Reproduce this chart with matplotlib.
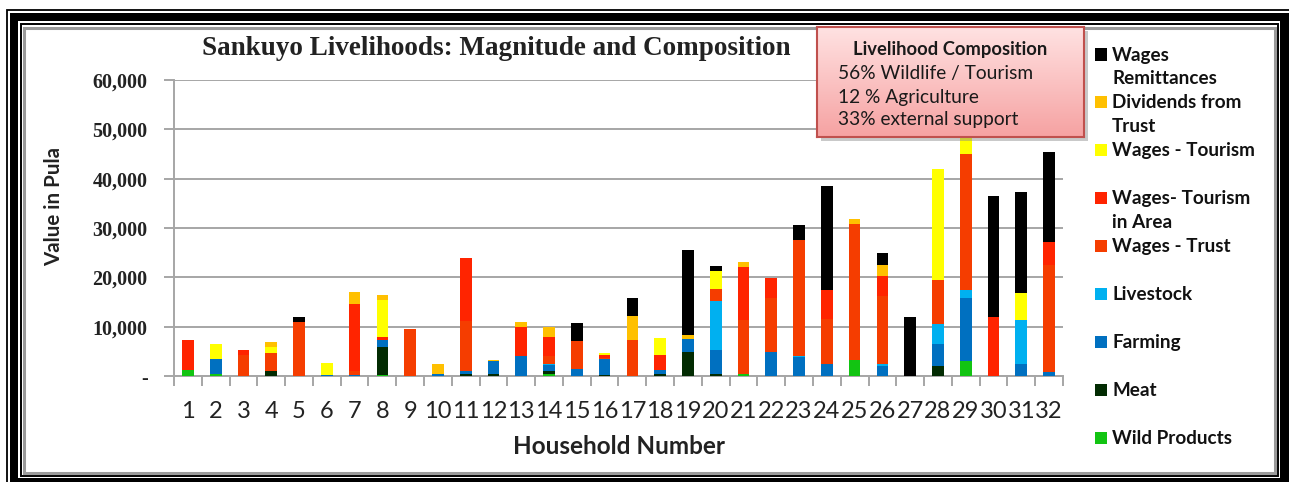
import matplotlib
matplotlib.use("Agg")
import matplotlib.pyplot as plt
import numpy as np
from matplotlib.patches import Rectangle
from matplotlib.ticker import FuncFormatter

W, H = 1289, 482

households = [str(i) for i in range(1, 33)]

# values in Pula (bottom of stack first)
wild = [1300, 470, 0, 0, 0, 0, 0, 300, 0, 0, 0, 0, 0, 470, 0, 0,
        0, 0, 0, 0, 470, 0, 0, 0, 3150, 0, 0, 0, 2950, 0, 0, 0]
meat = [0, 0, 0, 1000, 0, 0, 0, 5550, 0, 0, 470, 470, 0, 470, 0, 300,
        0, 470, 4850, 470, 0, 0, 0, 0, 0, 0, 0, 1950, 0, 0, 0, 0]
farming = [0, 2900, 0, 0, 0, 300, 300, 1500, 0, 470, 470, 2500, 4000, 1200, 1500, 3050,
           0, 680, 2550, 4900, 0, 4850, 3850, 2500, 0, 2000, 0, 4600, 12900, 0, 2500, 800]
livestock = [0, 0, 0, 0, 0, 0, 0, 0, 0, 0, 0, 0, 0, 270, 0, 0,
             0, 0, 0, 9900, 0, 0, 200, 0, 0, 400, 0, 4050, 1500, 0, 8800, 0]
wages_trust = [0, 0, 4200, 3650, 10950, 0, 800, 0, 9500, 0, 10300, 0, 0, 1550, 5550, 270,
               7350, 0, 0, 2350, 10800, 11000, 23600, 9050, 27700, 13900, 0, 8950, 27600, 0, 0, 21600]
tourism_area = [6050, 0, 1150, 0, 0, 0, 13500, 470, 0, 0, 12600, 0, 5950, 3850, 0, 540,
                0, 3050, 0, 0, 10800, 4050, 0, 5950, 0, 4050, 0, 0, 0, 11950, 0, 4850]
wages_tourism = [0, 3100, 0, 1200, 0, 2350, 0, 7500, 0, 0, 0, 0, 0, 0, 0, 600,
                 0, 3600, 0, 3700, 0, 0, 0, 0, 0, 0, 0, 22400, 5500, 0, 5600, 0]
dividends = [0, 0, 0, 950, 0, 0, 2400, 1200, 0, 1950, 0, 200, 1000, 2100, 0, 0,
             4800, 0, 1000, 0, 1000, 0, 0, 0, 1000, 2200, 0, 0, 0, 0, 0, 0]
remittances = [0, 0, 0, 0, 1000, 0, 0, 0, 0, 0, 0, 0, 0, 0, 3700, 0,
               3700, 0, 17150, 1000, 0, 0, 2950, 21100, 0, 2450, 11950, 0, 0, 24500, 20400, 18200]

series = [
    ("Wild Products", wild, "#12C412"),
    ("Meat", meat, "#022B02"),
    ("Farming", farming, "#0070C0"),
    ("Livestock", livestock, "#00B0F0"),
    ("Wages - Trust", wages_trust, "#F53D00"),
    ("Wages- Tourism\nin Area", tourism_area, "#FF2400"),
    ("Wages - Tourism", wages_tourism, "#FFFF00"),
    ("Dividends from\nTrust", dividends, "#FFC000"),
    ("Wages\nRemittances", remittances, "#000000"),
]

SANS = ["Lato", "DejaVu Sans"]
SERIF = ["Liberation Serif", "DejaVu Serif"]
GRID = "#A6A6A6"


def fx(px):
    return px / W


def fy(py):
    return 1 - py / H


fig = plt.figure(figsize=(W / 100, H / 100), dpi=100)
fig.patch.set_facecolor("white")

# double frame around the chart
def frame(x0, y0, x1, y1, **kw):
    fig.add_artist(Rectangle((fx(x0), fy(y1)), fx(x1) - fx(x0), fy(y0) - fy(y1),
                             transform=fig.transFigure, zorder=-10, **kw))

frame(6.5, 10, 1300, 495, fill=False, edgecolor="black", linewidth=1.3)
frame(10, 13, 1289, 482, facecolor="black", edgecolor="none")
frame(18.3, 21.5, 1280, 477.5, facecolor="white", edgecolor="none")
frame(20.5, 23.8, 1278, 476, fill=False, edgecolor="black", linewidth=1.4)
frame(23.5, 28, 1275, 473, fill=False, edgecolor="#9A9A9A", linewidth=2.2)

ax = fig.add_axes([fx(174), fy(376), fx(1063) - fx(174), fy(80) - fy(376)])
x = np.arange(1, len(households) + 1)
bottom = np.zeros(len(households))
for name, vals, col in series:
    ax.bar(x, vals, width=0.42, bottom=bottom, color=col, linewidth=0, zorder=3)
    bottom += np.array(vals)

ax.set_xlim(0.5, 32.5)
ax.set_ylim(0, 60000)
ax.yaxis.grid(True, color=GRID, linewidth=1.4)
ax.set_axisbelow(True)
for s in ("top", "right"):
    ax.spines[s].set_visible(False)
for s in ("left", "bottom"):
    ax.spines[s].set_color(GRID)
    ax.spines[s].set_linewidth(1.4)

ax.set_xticks(x, households, fontfamily=SANS, fontsize=17, color="#222222")
ax.set_xticks(np.arange(0.5, 33, 1), minor=True)
ax.tick_params(axis="x", which="major", length=0, pad=18)
ax.tick_params(axis="x", which="minor", length=7, color=GRID, width=1.4)

yt = np.arange(0, 60001, 10000)
ax.set_yticks(yt)
ax.yaxis.set_major_formatter(FuncFormatter(lambda v, _: "-" if v == 0 else f"{int(v):,}"))
ax.tick_params(axis="y", length=7, color=GRID, width=1.4, pad=12)
for lbl in ax.get_yticklabels():
    lbl.set_fontfamily(SERIF)
    lbl.set_fontweight("bold")
    lbl.set_fontsize(14.5)
    lbl.set_color("#222222")

fig.text(fx(496), fy(55), "Sankuyo Livelihoods: Magnitude and Composition",
         ha="center", va="baseline", fontfamily=SERIF, fontweight="bold",
         fontsize=19.5, color="#222222")
fig.text(fx(54), fy(207), "Value in Pula", rotation=90, ha="center", va="center",
         fontfamily=SANS, fontweight="bold", fontsize=14.8, color="#222222")
fig.text(fx(619), fy(446), "Household Number", ha="center", va="center",
         fontfamily=SANS, fontweight="bold", fontsize=17.5, color="#222222")

# legend, top entry = top of stack
for i, (name, vals, col) in enumerate(reversed(series)):
    top = 48.5 + 47.9 * i
    fig.add_artist(Rectangle((fx(1095), fy(top + 12)), fx(12), 12 / H,
                             transform=fig.transFigure, facecolor=col,
                             edgecolor="none", zorder=3))
    for j, line in enumerate(name.split("\n")):
        fig.text(fx(1112), fy(top + 12 + 24 * j), line, ha="left", va="baseline",
                 fontfamily=SANS, fontweight="bold", fontsize=13.6, color="#111111")

# livelihood composition box
bx0, by0, bx1, by1 = 817, 27, 1084, 137
fig.add_artist(Rectangle((fx(bx0 + 4), fy(by1 + 4)), fx(bx1 - bx0), (by1 - by0) / H,
                         transform=fig.transFigure, facecolor="#888888", alpha=0.45,
                         edgecolor="none", zorder=4))
box = fig.add_axes([fx(bx0), fy(by1), fx(bx1 - bx0), (by1 - by0) / H], zorder=5)
grad = np.linspace(0, 1, 100)[:, None]
top_c = np.array([255, 226, 226]) / 255
bot_c = np.array([246, 162, 162]) / 255
img = top_c[None, None, :] * (1 - grad[:, :, None]) + bot_c[None, None, :] * grad[:, :, None]
box.imshow(img, aspect="auto", extent=[0, 1, 0, 1], origin="upper")
box.set_xlim(0, 1)
box.set_ylim(0, 1)
box.set_xticks([])
box.set_yticks([])
for s in box.spines.values():
    s.set_color("#C0504D")
    s.set_linewidth(1.5)

def bt(px, py, txt, size=13.8, **kw):
    box.text((px - bx0) / (bx1 - bx0), 1 - (py - by0) / (by1 - by0), txt,
             transform=box.transAxes, va="center", fontfamily=SANS,
             fontsize=size, color="#1a1a1a", **kw)

bt(950, 49, "Livelihood Composition", size=13.2, ha="center", fontweight="bold")
bt(838, 73, "56% Wildlife / Tourism", ha="left")
bt(838, 97, "12 % Agriculture", ha="left")
bt(838, 120, "33% external support", ha="left")

fig.savefig("out.png", dpi=100, facecolor="white")
